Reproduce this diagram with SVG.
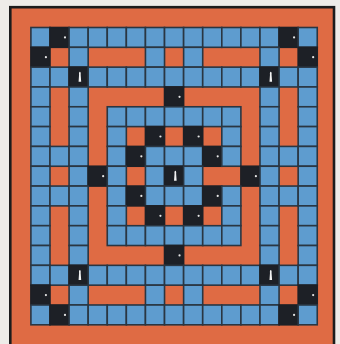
<svg xmlns="http://www.w3.org/2000/svg" xmlns:xlink="http://www.w3.org/1999/xlink" width="340" height="344" viewBox="0 0 340 344">
<style>
.page{fill:#EEECE8}
.board{fill:#DF6B44;stroke:#1c1c1c;stroke-width:2.6}
.blue{fill:#5E9CCF;stroke:#2A3642;stroke-width:1.6}
.blk{fill:#1D2026;stroke:#1D2026;stroke-width:1.6}
.dot{fill:#E6E6E6}
.pawn{fill:#F2F2F2}
</style>
<defs>
<rect id="B" width="19.09" height="19.82" class="blue"/>
<g id="K"><rect width="19.09" height="19.82" class="blk"/><circle cx="15" cy="9.9" r="1.1" class="dot"/></g>
<g id="A"><rect width="19.09" height="19.82" class="blk"/><path class="pawn" d="M10.8 4.6C11.6 4.6 11.8 6 11.6 7.6L12.1 14.6L9.5 14.6L10 7.6C9.8 6 10 4.6 10.8 4.6Z"/></g>
<g id="row0">
<use href="#B" x="30.9"/><use href="#K" x="49.99"/><use href="#B" x="69.08"/><use href="#B" x="88.17"/><use href="#B" x="107.26"/><use href="#B" x="126.35"/><use href="#B" x="145.44"/><use href="#B" x="164.53"/><use href="#B" x="183.62"/><use href="#B" x="202.71"/><use href="#B" x="221.8"/><use href="#B" x="240.89"/><use href="#B" x="259.98"/><use href="#K" x="279.07"/><use href="#B" x="298.16"/>
</g>
<g id="row1">
<use href="#K" x="30.9"/><use href="#B" x="69.08"/><use href="#B" x="145.44"/><use href="#B" x="183.62"/><use href="#B" x="259.98"/><use href="#K" x="298.16"/>
</g>
<g id="row2">
<use href="#B" x="30.9"/><use href="#B" x="49.99"/><use href="#A" x="69.08"/><use href="#B" x="88.17"/><use href="#B" x="107.26"/><use href="#B" x="126.35"/><use href="#B" x="145.44"/><use href="#B" x="164.53"/><use href="#B" x="183.62"/><use href="#B" x="202.71"/><use href="#B" x="221.8"/><use href="#B" x="240.89"/><use href="#A" x="259.98"/><use href="#B" x="279.07"/><use href="#B" x="298.16"/>
</g>
<g id="row3">
<use href="#B" x="30.9"/><use href="#B" x="69.08"/><use href="#K" x="164.53"/><use href="#B" x="259.98"/><use href="#B" x="298.16"/>
</g>
<g id="row4">
<use href="#B" x="30.9"/><use href="#B" x="69.08"/><use href="#B" x="107.26"/><use href="#B" x="126.35"/><use href="#B" x="145.44"/><use href="#B" x="164.53"/><use href="#B" x="183.62"/><use href="#B" x="202.71"/><use href="#B" x="221.8"/><use href="#B" x="259.98"/><use href="#B" x="298.16"/>
</g>
<g id="row5">
<use href="#B" x="30.9"/><use href="#B" x="69.08"/><use href="#B" x="107.26"/><use href="#K" x="145.44"/><use href="#K" x="183.62"/><use href="#B" x="221.8"/><use href="#B" x="259.98"/><use href="#B" x="298.16"/>
</g>
<g id="row6">
<use href="#B" x="30.9"/><use href="#B" x="49.99"/><use href="#B" x="69.08"/><use href="#B" x="107.26"/><use href="#K" x="126.35"/><use href="#B" x="145.44"/><use href="#B" x="164.53"/><use href="#B" x="183.62"/><use href="#K" x="202.71"/><use href="#B" x="221.8"/><use href="#B" x="259.98"/><use href="#B" x="279.07"/><use href="#B" x="298.16"/>
</g>
<g id="row7">
<use href="#B" x="30.9"/><use href="#B" x="69.08"/><use href="#K" x="88.17"/><use href="#B" x="107.26"/><use href="#B" x="145.44"/><use href="#A" x="164.53"/><use href="#B" x="183.62"/><use href="#K" x="240.89"/><use href="#B" x="259.98"/><use href="#B" x="298.16"/>
</g>
</defs>
<rect class="page" x="0" y="0" width="340" height="344"/>
<rect class="board" x="10.3" y="7.2" width="323.7" height="345"/>
<g id="grid">
<use href="#row0" y="27.5"/>
<use href="#row1" y="47.32"/>
<use href="#row2" y="67.14"/>
<use href="#row3" y="86.96"/>
<use href="#row4" y="106.78"/>
<use href="#row5" y="126.6"/>
<use href="#row6" y="146.42"/>
<use href="#row7" y="166.24"/>
<use href="#row6" y="186.06"/>
<use href="#row5" y="205.88"/>
<use href="#row4" y="225.7"/>
<use href="#row3" y="245.52"/>
<use href="#row2" y="265.34"/>
<use href="#row1" y="285.16"/>
<use href="#row0" y="304.98"/>
</g>
</svg>
